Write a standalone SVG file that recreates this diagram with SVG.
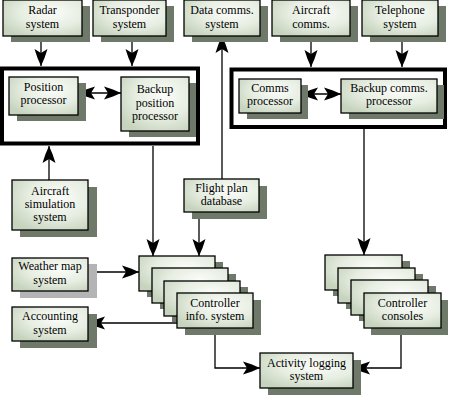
<svg xmlns="http://www.w3.org/2000/svg" width="449" height="401" viewBox="0 0 449 401" font-family="'Liberation Serif', 'DejaVu Serif', 'Times New Roman', serif">
<style>
.box{fill:url(#g);stroke:#000;stroke-width:1.3}
.sh{fill:#6e7969}
.shl{fill:#b4b4b4}
.big{fill:none;stroke:#000;stroke-width:4}
.c{fill:none;stroke:#000;stroke-width:1.3}
.a{marker-end:url(#ah)}
.aa{marker-start:url(#ah);marker-end:url(#ah)}
text{font-family:'Liberation Serif','DejaVu Serif','Times New Roman',serif;font-size:12px;fill:#000;text-anchor:middle}
</style>
<defs>
<radialGradient id="g" cx="0.62" cy="0.35" r="0.75">
<stop offset="0" stop-color="#fbfdf9"/>
<stop offset="0.55" stop-color="#e6ede1"/>
<stop offset="1" stop-color="#c6d3bd"/>
</radialGradient>
<marker id="ah" markerUnits="userSpaceOnUse" viewBox="-18 -7 19 14" markerWidth="19" markerHeight="14" refX="0" refY="0" orient="auto-start-reverse">
<path d="M0,0 L-8,-3.5 L-17,-6.5 L-13,0 L-17,6.5 L-8,3.5 Z" fill="#000"/>
</marker>
</defs>

<g id="connectors">
<path class="c a" d="M41,36 V66"/>
<path class="c a" d="M132,36 V66"/>
<path class="c aa" d="M78,93 H121"/>
<path class="c a" d="M49,180 V146"/>
<path class="c a" d="M153,146 V256"/>
<path class="c a" d="M199,212 V256"/>
<path class="c a" d="M222,179 V36"/>
<path class="c a" d="M88,272 H139"/>
<path class="c a" d="M177,323 H88"/>
<path class="c a" d="M215,328 V368 H260"/>
<path class="c a" d="M311,36 V67"/>
<path class="c a" d="M402,36 V67"/>
<path class="c aa" d="M301,94 H341"/>
<path class="c a" d="M364,129 V255"/>
<path class="c a" d="M401,328 V368 H353"/>
</g>

<g id="position-group"><rect class="big" x="2" y="68.5" width="196" height="75"/></g>
<g id="comms-group"><rect class="big" x="231.5" y="69.5" width="213.5" height="57.5"/></g>

<g id="radar"><rect class="sh" x="11" y="6" width="79" height="36"/><rect class="box" x="3" y="0" width="79" height="36"/><text x="42.5" y="14">Radar</text><text x="42.5" y="28">system</text></g>
<g id="transponder"><rect class="sh" x="101" y="6" width="73" height="36"/><rect class="box" x="93" y="0" width="73" height="36"/><text x="129.5" y="14">Transponder</text><text x="129.5" y="28">system</text></g>
<g id="datacomms"><rect class="sh" x="192" y="6" width="76" height="36"/><rect class="box" x="184" y="0" width="76" height="36"/><text x="222" y="14">Data comms.</text><text x="222" y="28">system</text></g>
<g id="aircraftcomms"><rect class="sh" x="280" y="6" width="78" height="36"/><rect class="box" x="272" y="0" width="78" height="36"/><text x="311" y="14">Aircraft</text><text x="311" y="28">comms.</text></g>
<g id="telephone"><rect class="sh" x="370" y="6" width="76" height="36"/><rect class="box" x="362" y="0" width="76" height="36"/><text x="400" y="14">Telephone</text><text x="400" y="28">system</text></g>

<g id="posproc"><rect class="sh" x="17" y="83" width="69" height="38"/><rect class="box" x="9" y="77" width="69" height="38"/><text x="43.5" y="91">Position</text><text x="43.5" y="104">processor</text></g>
<g id="backuppos"><rect class="sh" x="129" y="83" width="67" height="54"/><rect class="box" x="121" y="77" width="68" height="54"/><text x="155" y="93">Backup</text><text x="155" y="106.5">position</text><text x="155" y="120">processor</text></g>
<g id="commsproc"><rect class="sh" x="247" y="85" width="61" height="34"/><rect class="box" x="239" y="79" width="62" height="34"/><text x="270" y="92">Comms</text><text x="270" y="105">processor</text></g>
<g id="backupcomms"><rect class="sh" x="349" y="85" width="95" height="34"/><rect class="box" x="341" y="79" width="96" height="34"/><text x="389" y="92">Backup comms.</text><text x="389" y="105">processor</text></g>

<g id="aircraftsim"><rect class="sh" x="20" y="187" width="77" height="50"/><rect class="box" x="12" y="180" width="76" height="50"/><text x="50" y="195">Aircraft</text><text x="50" y="208">simulation</text><text x="50" y="221">system</text></g>
<g id="flightplan"><rect class="sh" x="192" y="186" width="75" height="33"/><rect class="box" x="184" y="179" width="75" height="33"/><text x="221.5" y="192">Flight plan</text><text x="221.5" y="205">database</text></g>
<g id="weather"><rect class="shl" x="20" y="264" width="77" height="34"/><rect class="box" x="12" y="258" width="76" height="33"/><text x="50" y="270">Weather map</text><text x="50" y="284">system</text></g>
<g id="accounting"><rect class="sh" x="20" y="314" width="77" height="34"/><rect class="box" x="12" y="307" width="76" height="34"/><text x="50" y="320">Accounting</text><text x="50" y="334">system</text></g>

<g id="controllerinfo">
<rect class="sh" x="147" y="262" width="76" height="35"/><rect class="box" x="139" y="256" width="76" height="35"/>
<rect class="sh" x="160" y="274" width="76" height="35"/><rect class="box" x="152" y="268" width="76" height="35"/>
<rect class="sh" x="172" y="287" width="76" height="35"/><rect class="box" x="164" y="281" width="76" height="35"/>
<rect class="sh" x="185" y="300" width="76" height="35"/><rect class="box" x="177" y="293" width="76" height="35"/>
<text x="215" y="306.5">Controller</text><text x="215" y="320">info. system</text>
</g>
<g id="consoles">
<rect class="sh" x="333" y="261" width="77" height="35"/><rect class="box" x="325" y="255" width="77" height="35"/>
<rect class="sh" x="346" y="274" width="77" height="35"/><rect class="box" x="338" y="268" width="77" height="35"/>
<rect class="sh" x="359" y="286" width="77" height="35"/><rect class="box" x="351" y="280" width="77" height="35"/>
<rect class="sh" x="371" y="300" width="77" height="35"/><rect class="box" x="364" y="293" width="77" height="35"/>
<text x="402.5" y="306.5">Controller</text><text x="402.5" y="320">consoles</text>
</g>
<g id="activity"><rect class="sh" x="268" y="360" width="93" height="35"/><rect class="box" x="260" y="353" width="93" height="35"/><text x="306.5" y="366.5">Activity logging</text><text x="306.5" y="380">system</text></g>
</svg>
